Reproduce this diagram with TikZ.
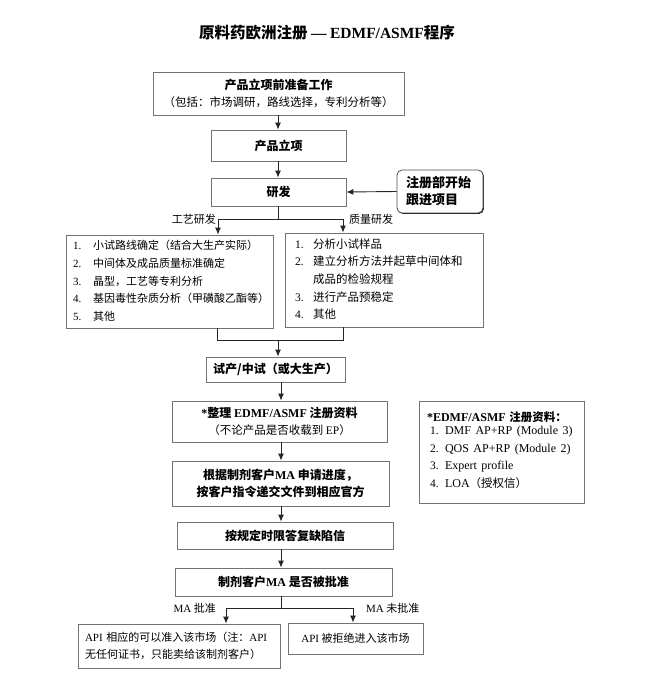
\documentclass[tikz,border=0pt]{standalone}
\usepackage{fontspec}
\setmainfont{Noto Sans CJK SC}
\newfontfamily\en{Liberation Serif}
\usetikzlibrary{arrows.meta,shadows}
\begin{document}
\begin{tikzpicture}[x=1pt,y=-1pt,
  box/.style={draw=black!55, line width=0.8pt, fill=white, inner sep=0pt,
    drop shadow={shadow xshift=0.9pt, shadow yshift=-0.9pt, opacity=1, fill=black!90},
    align=center, font=\fontsize{11.5}{17}\selectfont},
  bbox/.style={box, font=\bfseries\fontsize{12}{17}\selectfont},
  listbox/.style={box, align=left, font=\fontsize{11}{17.5}\selectfont},
  lbl/.style={inner sep=0pt, font=\fontsize{11}{13}\selectfont},
  conn/.style={draw=black!85, line width=0.9pt},
  arr/.style={conn, -{Latex[length=7pt,width=6pt]}}
]
\useasboundingbox (0,0) rectangle (651,684);

% title
\node[inner sep=0pt, font=\bfseries\fontsize{15.5}{18}\selectfont] (title) at (327,33)
  {原料药欧洲注册 {\en —} {\en EDMF/ASMF}程序};

% main column
\node[bbox, font=\fontsize{11.5}{17}\selectfont, minimum width=251pt, minimum height=43pt] (prep) at (278.5,93.5)
  {\textbf{\fontsize{12}{17}\selectfont 产品立项前准备工作}\\（包括：市场调研，路线选择，专利分析等）};
\node[bbox, minimum width=135pt, minimum height=31pt] (proj) at (278.5,145.5) {产品立项};
\node[bbox, minimum width=135pt, minimum height=28pt] (rd) at (278.5,192) {研发};
\node[bbox, rounded corners=5pt, draw=black!70, align=left, text width=68pt, inner xsep=9pt,
  font=\bfseries\fontsize{13}{17}\selectfont,
  minimum width=86pt, minimum height=43pt] (reg) at (440,191.5) {注册部开始\\跟进项目};

\node[listbox, text width=193pt, inner xsep=7pt, minimum height=93pt] (lbox) at (169.5,281.5)
  {\begin{tabular}{@{}p{20pt}@{}l@{}}
   {\en 1.} & 小试路线确定（结合大生产实际）\\
   {\en 2.} & 中间体及成品质量标准确定\\
   {\en 3.} & 晶型，工艺等专利分析\\
   {\en 4.} & 基因毒性杂质分析（甲磺酸乙酯等）\\
   {\en 5.} & 其他
  \end{tabular}};
\node[listbox, text width=178pt, inner xsep=10pt, minimum height=94pt, font=\fontsize{11.5}{17.5}\selectfont] (rbox) at (384,280)
  {\begin{tabular}{@{}p{18pt}@{}l@{}}
   {\en 1.} & 分析小试样品\\
   {\en 2.} & 建立分析方法并起草中间体和\\
            & 成品的检验规程\\
   {\en 3.} & 进行产品预稳定\\
   {\en 4.} & 其他
  \end{tabular}};

\node[bbox, minimum width=139pt, minimum height=25pt] (trial) at (275.5,369.5) {试产/中试（或大生产）};
\node[box, minimum width=215pt, minimum height=41pt] (edmf) at (279.5,421.5)
  {\textbf{\fontsize{12}{17}\selectfont{\en *}整理 {\en EDMF/ASMF} 注册资料}\\（不论产品是否收载到 {\en EP}）};
\node[bbox, minimum width=217pt, minimum height=45pt] (sub) at (280.5,483.5)
  {根据制剂客户{\en MA} 申请进度，\\按客户指令递交文件到相应官方};
\node[bbox, minimum width=216pt, minimum height=27pt] (reply) at (285,535.5) {按规定时限答复缺陷信};
\node[bbox, minimum width=217pt, minimum height=28pt] (dec) at (283.5,582) {制剂客户{\en MA} 是否被批准};

\node[box, align=left, text width=188pt, inner xsep=7pt, font=\fontsize{11}{17}\selectfont,
  minimum height=44pt] (ok) at (179,646)
  {\hbox{{\en API} 相应的可以准入该市场（注：{\en API}}\\无任何证书，只能卖给该制剂客户）};
\node[box, minimum width=135pt, minimum height=31pt, font=\fontsize{11}{17}\selectfont] (no) at (355.5,638.5)
  {{\en API} 被拒绝进入该市场};

% side box
\node[box, align=left, text width=149pt, inner xsep=8pt, minimum height=102pt,
  font=\fontsize{11.5}{17.5}\selectfont] (side) at (501.5,452)
  {\textbf{{\en\fontsize{12}{17.5}\selectfont *EDMF/ASMF} 注册资料：}\\[-1pt]
   \begin{tabular}{@{\hspace{3pt}}p{15pt}@{}l@{}}
   {\en 1.} & {\en\fontsize{12}{17.5}\selectfont DMF\hspace{4.5pt}AP+RP\hspace{4.5pt}(Module\hspace{4.5pt}3)}\\
   {\en 2.} & {\en\fontsize{12}{17.5}\selectfont QOS\hspace{4.5pt}AP+RP\hspace{4.5pt}(Module\hspace{4.5pt}2)}\\
   {\en 3.} & {\en\fontsize{12}{17.5}\selectfont Expert\hspace{4.5pt}profile}\\
   {\en 4.} & {\en\fontsize{12}{17.5}\selectfont LOA}（授权信）
   \end{tabular}};

% labels
\node[lbl, anchor=east] (lab1) at (216,219) {工艺研发};
\node[lbl, anchor=west] (lab2) at (349,219) {质量研发};
\node[lbl, anchor=east] (lab3) at (216,608) {{\en MA} 批准};
\node[lbl, anchor=west] (lab4) at (366,608) {{\en MA} 未批准};

% helper coordinates
\coordinate (axA) at (278,0);
\coordinate (axB) at (281,0);
\coordinate (bl) at (218,219);
\coordinate (br) at (343,219);
\coordinate (jl) at (217,340);
\coordinate (jr) at (343,340);
\coordinate (ml) at (226,608);
\coordinate (mr) at (353,608);

% connectors
\draw[arr] (prep.south -| axA) -- (proj.north -| axA);
\draw[arr] (proj.south -| axA) -- (rd.north -| axA);
\draw[arr] (reg.west) -- (rd.east);
\draw[conn] (rd.south -| axA) -- (bl -| axA);
\draw[arr] (bl -| axA) -- (bl) -- (bl |- lbox.north);
\draw[arr] (br -| axA) -- (br) -- (br |- rbox.north);
\draw[conn] (jl |- lbox.south) -- (jl) -- (jr) -- (jr |- rbox.south);
\draw[arr] (jl -| axA) -- (trial.north -| axA);
\draw[arr] (trial.south -| axB) -- (edmf.north -| axB);
\draw[arr] (edmf.south -| axB) -- (sub.north -| axB);
\draw[arr] (sub.south -| axB) -- (reply.north -| axB);
\draw[arr] (reply.south -| axB) -- (dec.north -| axB);
\draw[conn] (dec.south -| axB) -- (ml -| axB);
\draw[arr] (ml -| axB) -- (ml) -- (ml |- ok.north);
\draw[arr] (mr -| axB) -- (mr) -- (mr |- no.north);
\end{tikzpicture}
\end{document}
